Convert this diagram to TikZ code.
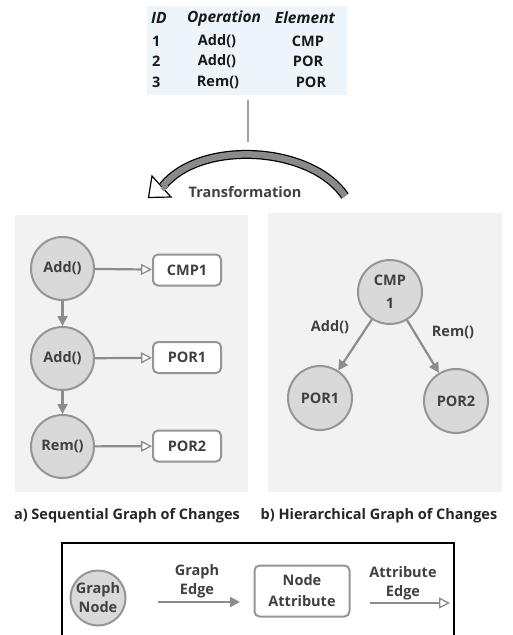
\documentclass[tikz,border=0pt]{standalone}
\usepackage{fontspec}
\setmainfont{Open Sans}
\usetikzlibrary{arrows.meta}
\definecolor{panelbg}{HTML}{F2F2F2}
\definecolor{tablebg}{HTML}{EEF5FA}
\definecolor{nodefill}{HTML}{D9D9D9}
\definecolor{nodeline}{HTML}{959595}
\definecolor{edgecol}{HTML}{8C8C8C}
\definecolor{txt}{HTML}{404040}
\definecolor{bandcol}{HTML}{8A8A8A}
\tikzset{
  lbl/.style={font=\bfseries\fontsize{14.5}{19}\selectfont, text=txt, inner sep=0pt, align=center},
  tbl/.style={font=\bfseries\fontsize{14.5}{17}\selectfont, text=black!90, inner sep=0pt},
  hdr/.style={tbl, font=\bfseries\itshape\fontsize{15.5}{17}\selectfont},
  gnode/.style={circle, draw=nodeline, fill=nodefill, line width=2pt, minimum size=63pt, inner sep=0pt, lbl},
  attrbox/.style={rectangle, rounded corners=5pt, draw=nodeline, fill=white, line width=2pt, minimum width=68pt, minimum height=31pt, inner sep=0pt, lbl},
  gedge/.style={draw=edgecol, line width=2.2pt, -{Triangle[length=10pt,width=10pt]}},
  aedge/.style={draw=edgecol, line width=2.2pt, -{Triangle[length=11pt,width=11pt,fill=white,line width=1.3pt]}},
}
\begin{document}
\begin{tikzpicture}[x=1pt,y=-1pt]
\useasboundingbox (0,0) rectangle (513,635);

% operations table
\fill[tablebg] (147,6) rectangle (347,95);
\node[hdr, anchor=west] (hid) at (151,18) {ID};
\node[hdr] (hop) at (224,18) {Operation};
\node[hdr] (hel) at (305,18) {Element};
\node[tbl, anchor=west] (id1) at (152,41) {1};
\node[tbl, anchor=west] (id2) at (152,61) {2};
\node[tbl, anchor=west] (id3) at (152,82) {3};
\node[tbl] (op1) at (217,41) {Add()};
\node[tbl] (op2) at (217,61) {Add()};
\node[tbl] (op3) at (218,82) {Rem()};
\node[tbl] (el1) at (308,41) {CMP};
\node[tbl] (el2) at (308,61) {POR};
\node[tbl] (el3) at (311,82) {POR};

% link from the table to the transformation
\coordinate (tb) at (248,100);
\coordinate (te) at (248,142);
\draw[edgecol!80, line width=1.2pt] (tb) -- (te);

% transformation arrow
\coordinate (bs) at (345,196);
\coordinate (be) at (163,186);
\draw[black, line width=9pt] (bs) .. controls (310,145) and (200,140) .. (be);
\draw[bandcol, line width=6.5pt] (bs) .. controls (310,145) and (200,140) .. (be);
\coordinate (ht) at (152,176);
\coordinate (hl) at (148.5,197.5);
\coordinate (hr) at (171,197);
\draw[black, fill=white, line width=1.2pt, line join=miter] (ht) -- (hl) -- (hr) -- cycle;
\draw[bandcol, line width=6.5pt] (166,189) -- (be);
\node[lbl] (tr) at (245,192) {Transformation};

% panels
\fill[panelbg] (15,215) rectangle (248,492);
\fill[panelbg] (268,213) rectangle (502,492);

% sequential graph
\node[gnode] (a1) at (62.5,268.5) {Add()};
\node[gnode] (a2) at (62.5,358.5) {Add()};
\node[gnode] (a3) at (62.5,446.5) {Rem()};
\node[attrbox] (c1) at (187,270) {CMP1};
\node[attrbox] (p1) at (187,357.5) {POR1};
\node[attrbox] (p2) at (187,446) {POR2};
\draw[gedge] (a1) -- (a2);
\draw[gedge] (a2) -- (a3);
\draw[aedge] (a1) -- (c1);
\draw[aedge] (a2) -- (p1);
\draw[aedge] (a3) -- (p2);

% hierarchical graph
\node[gnode, minimum size=64pt, font=\bfseries\fontsize{14.5}{23}\selectfont] (cmp) at (390,292) {CMP\\1};
\node[gnode, minimum size=64pt] (hp1) at (320,398) {POR1};
\node[gnode, minimum size=64pt] (hp2) at (456,401) {POR2};
\draw[gedge] (cmp) -- (hp1);
\draw[gedge] (cmp) -- (hp2);
\node[lbl] (ladd) at (330,327) {Add()};
\node[lbl] (lrem) at (453,332) {Rem()};

% captions
\node[lbl, text=black!85] (capa) at (127,516) {a) Sequential Graph of Changes};
\node[lbl, text=black!85] (capb) at (379,516) {b) Hierarchical Graph of Changes};

% legend
\draw[black, line width=2.5pt] (62,640) -- (62,543) -- (454,543) -- (454,640);
\node[gnode, minimum size=55pt] (lgn) at (98,598) {Graph\\Node};
\coordinate (ge1) at (158,602);
\coordinate (ge2) at (240,602);
\draw[gedge] (ge1) -- (ge2);
\node[lbl] (lge) at (197,581) {Graph\\Edge};
\node[attrbox, minimum width=95pt, minimum height=51pt, font=\bfseries\fontsize{14.5}{21}\selectfont] (lna) at (302,591) {Node\\Attribute};
\coordinate (ae1) at (370,603);
\coordinate (ae2) at (450,603);
\draw[aedge] (ae1) -- (ae2);
\node[lbl] (lae) at (403,583) {Attribute\\Edge};
\end{tikzpicture}
\end{document}
